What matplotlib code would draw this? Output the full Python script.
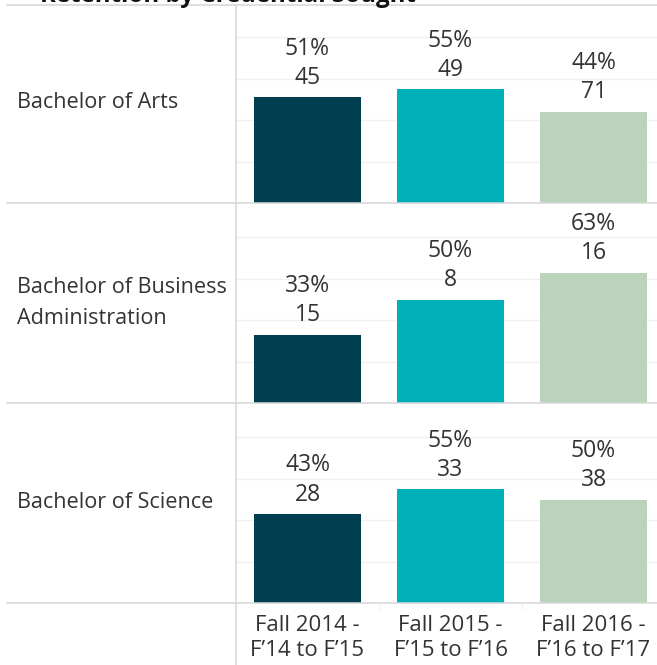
import matplotlib
matplotlib.use("Agg")
import matplotlib.pyplot as plt
from matplotlib.lines import Line2D
from matplotlib import transforms

# data
programs = ["Bachelor of Arts", "Bachelor of Business\nAdministration", "Bachelor of Science"]
cohorts = ["Fall 2014 -\nF\u201914 to F\u201915", "Fall 2015 -\nF\u201915 to F\u201916", "Fall 2016 -\nF\u201916 to F\u201917"]
retention = [
    [0.51, 0.55, 0.44],
    [0.33, 0.50, 0.63],
    [0.43, 0.55, 0.50],
]
counts = [
    [45, 49, 71],
    [15, 8, 16],
    [28, 33, 38],
]
colors = ["#013e4f", "#00b0b8", "#bbd2bb"]

plt.rcParams["font.family"] = ["Open Sans", "DejaVu Sans"]

W, H = 657, 665
fig = plt.figure(figsize=(W / 100, H / 100), dpi=100)

def fx(px):
    return px / W

def fy(py):
    return 1 - py / H

line_col = "#d6d6d6"
text_col = "#333333"
left_px, right_px = 236, 657
col_w = 143
panel_bottoms = [203, 403, 603]
panel_h = 200

for i, name in enumerate(programs):
    bottom = panel_bottoms[i]
    ax = fig.add_axes([fx(left_px), fy(bottom), fx(right_px - left_px), panel_h / H])
    x = list(range(len(cohorts)))
    ax.bar(x, retention[i], width=0.75, color=colors, edgecolor="none", zorder=2)
    ax.set_xlim(-0.5, -0.5 + (right_px - left_px) / col_w)
    ax.set_ylim(0, panel_h / 207.0)
    ax.set_yticks([0.2, 0.4, 0.6, 0.8])
    ax.yaxis.grid(True, color="#f0f0f0", linewidth=1.0, zorder=0)
    ax.tick_params(left=False, bottom=False, labelleft=False, labelbottom=False)
    for s in ax.spines.values():
        s.set_visible(False)
    for j in x:
        ax.annotate(f"{retention[i][j]:.0%}", (j, retention[i][j]), xytext=(0, 35),
                    textcoords="offset points", ha="center", va="center",
                    fontsize=16.5, color=text_col)
        ax.annotate(f"{counts[i][j]}", (j, retention[i][j]), xytext=(0, 14),
                    textcoords="offset points", ha="center", va="center",
                    fontsize=16.5, color=text_col)
    trans = transforms.blended_transform_factory(fig.transFigure, ax.transAxes)
    ax.text(fx(17), 0.5, name, transform=trans, ha="left", va="center",
            fontsize=15.6, color=text_col, linespacing=1.58)
    if i == len(programs) - 1:
        for j, lab in enumerate(cohorts):
            ax.annotate(lab, (j, 0), xytext=(0, -8.5), textcoords="offset points",
                        ha="center", va="top", fontsize=16.0, color=text_col,
                        linespacing=1.27, annotation_clip=False)

# header and row separators
for py in [4.5] + panel_bottoms:
    fig.add_artist(Line2D([fx(7), 1], [fy(py), fy(py)], color=line_col, linewidth=1.1))
fig.add_artist(Line2D([fx(left_px), fx(left_px)], [fy(4.5), 0], color=line_col, linewidth=1.1))
for px in [379, 522]:
    fig.add_artist(Line2D([fx(px), fx(px)], [fy(603), fy(609)], color="#eeeeee", linewidth=0.8))

fig.text(fx(40), fy(2.5), "Retention by Credential Sought", ha="left", va="baseline",
         fontsize=17.4, fontweight="bold", color="#111111")

fig.savefig("out.png", dpi=100)
